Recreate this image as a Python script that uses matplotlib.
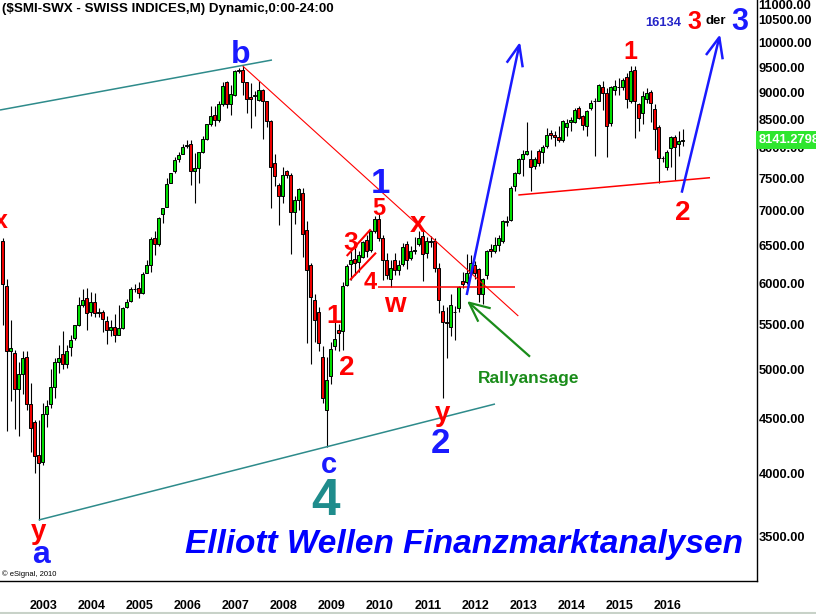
import numpy as np
import pandas as pd
import matplotlib
matplotlib.use("Agg")
import matplotlib.pyplot as plt
import matplotlib.transforms as mtransforms
from matplotlib import font_manager
from matplotlib.lines import Line2D

# --- SMI monthly candles, Jun 2002 .. Aug 2016 ---
months = pd.period_range("2002-06", "2016-08", freq="M")

opens = [
    6565, 5960, 5200, 5170, 4790, 4945, 5125,                                  # 2002
    4641, 4470, 4165, 4106, 4540, 4640, 4812, 5073, 5160, 5050, 5240, 5340,    # 2003
    5490, 5725, 5811, 5640, 5760, 5630, 5650, 5540, 5430, 5470, 5380, 5450,    # 2004
    5700, 5780, 5930, 5935, 5880, 6130, 6240, 6600, 6520, 6950, 7060, 7430,    # 2005
    7610, 7820, 7900, 8030, 8060, 7620, 7660, 7925, 8150, 8410, 8580, 8490,    # 2006
    8790, 9210, 8780, 8960, 9420, 9450, 9200, 8920, 8930, 8850, 9040, 8840,    # 2007
    8480, 7740, 7400, 7230, 7610, 7560, 6980, 7160, 7270, 6720, 6240, 5790,    # 2008
    5650, 5125, 4580, 4930, 5250, 5433, 5420, 5980, 6245, 6320, 6280, 6350,    # 2009
    6580, 6440, 6700, 6880, 6600, 6300, 6060, 6300, 6170, 6250, 6520, 6330,    # 2010
    6430, 6520, 6640, 6400, 6555, 6560, 6200, 5660, 5525, 5471, 5650, 5690,    # 2011
    6030, 6010, 6130, 6240, 6180, 5870, 6100, 6450, 6420, 6510, 6570, 6840,    # 2012
    6870, 7380, 7580, 7810, 7900, 7810, 7700, 7940, 7930, 8030, 8260, 8220,    # 2013
    8180, 8140, 8370, 8460, 8460, 8700, 8560, 8390, 8700, 8830, 8840, 9100,    # 2014
    8991, 8430, 9040, 9100, 9110, 9310, 8830, 9440, 8790, 8620, 8870, 9010,    # 2015
    8690, 8364, 7825, 7688, 7994, 8193, 8068, 8120,                            # 2016
]
highs = [
    6600, 6050, 5550, 5210, 5080, 5200, 5200,
    4850, 4490, 4487, 4650, 4681, 5005, 5120, 5260, 5420, 5260, 5370, 5495,
    5823, 5930, 5937, 5895, 5880, 5690, 5669, 5600, 5549, 5620, 5730, 5700,
    5800, 5950, 5990, 6020, 6140, 6300, 6620, 6705, 6900, 7045, 7500, 7590,
    7840, 7925, 8060, 8136, 8136, 7910, 7935, 8200, 8420, 8745, 8740, 8830,
    9200, 9215, 9140, 9440, 9480, 9530, 9210, 9180, 9035, 9230, 9060, 8840,
    8490, 7900, 7420, 7690, 7630, 7590, 7220, 7340, 7340, 6850, 6270, 5870,
    5700, 5250, 5125, 5290, 5549, 5500, 6010, 6250, 6420, 6470, 6430, 6560,
    6650, 6720, 6920, 6960, 6650, 6400, 6300, 6400, 6300, 6540, 6560, 6500,
    6620, 6700, 6700, 6620, 6640, 6600, 6260, 5730, 5700, 5870, 5720, 5970,
    6150, 6380, 6370, 6290, 6200, 6070, 6440, 6520, 6620, 6650, 6860, 6920,
    7380, 7600, 7830, 7966, 8455, 7960, 7850, 7980, 8050, 8340, 8310, 8290,
    8380, 8490, 8500, 8540, 8700, 8740, 8580, 8670, 8850, 8900, 9160, 9230,
    9080, 9130, 9250, 9290, 9290, 9390, 9520, 9530, 8800, 9030, 9090, 9050,
    8790, 8400, 7870, 7960, 8200, 8230, 8290, 8330,
]
lows = [
    5490, 4380, 4670, 4400, 4340, 4745, 4580,
    4195, 4006, 3630, 4074, 4418, 4600, 4700, 4960, 5000, 5010, 5135, 5320,
    5480, 5700, 5433, 5600, 5590, 5590, 5410, 5270, 5360, 5300, 5370, 5440,
    5690, 5770, 5890, 5820, 5870, 6130, 6150, 6370, 6500, 6820, 7050, 7420,
    7590, 7770, 7890, 8000, 7400, 7120, 7430, 7910, 8130, 8380, 8380, 8450,
    8750, 8700, 8580, 8930, 9390, 8960, 8620, 8350, 8560, 8840, 8160, 8370,
    7040, 7380, 6790, 7110, 7510, 6390, 6810, 7010, 6350, 5280, 5050, 5300,
    5200, 4650, 4240, 4840, 5210, 5200, 5206, 5960, 6040, 6100, 6150, 6330,
    6350, 6410, 6680, 6560, 6042, 6050, 5950, 6100, 6100, 6230, 6180, 6300,
    6380, 6490, 6030, 6330, 6480, 6150, 5630, 4705, 5120, 5360, 5320, 5650,
    5940, 5985, 6100, 6050, 5770, 5740, 6050, 6350, 6400, 6420, 6540, 6780,
    6850, 7300, 7570, 7530, 7880, 7300, 7650, 7700, 7750, 8000, 8150, 8030,
    8100, 8100, 8200, 8300, 8440, 8500, 8310, 8200, 8680, 7865, 8830, 8670,
    7847, 8380, 8950, 8950, 9050, 8700, 8800, 8170, 8300, 8410, 8800, 8450,
    7970, 7425, 7760, 7640, 7690, 7472, 7870, 8040,
]
closes = [
    5996, 5200, 5225, 4790, 4945, 5115, 4641,
    4412, 4160, 4094, 4540, 4620, 4812, 5073, 5115, 5050, 5190, 5320, 5490,
    5725, 5790, 5630, 5760, 5630, 5645, 5565, 5430, 5470, 5380, 5450, 5690,
    5760, 5930, 5925, 5875, 6115, 6240, 6590, 6520, 6888, 7037, 7405, 7580,
    7800, 7880, 8020, 8055, 7620, 7660, 7925, 8150, 8410, 8560, 8490, 8780,
    9130, 8780, 8980, 9420, 9440, 9200, 8880, 8880, 8950, 9040, 8840, 8480,
    7680, 7540, 7230, 7550, 7560, 6980, 7160, 7330, 6660, 6172, 5830, 5550,
    5280, 4700, 4880, 5220, 5330, 5395, 5970, 6225, 6300, 6270, 6370, 6545,
    6420, 6700, 6880, 6600, 6300, 6110, 6200, 6170, 6240, 6480, 6300, 6430,
    6440, 6610, 6380, 6560, 6565, 6200, 5790, 5520, 5515, 5729, 5640, 5950,
    5985, 6130, 6260, 6130, 5860, 6060, 6430, 6420, 6510, 6600, 6845, 6850,
    7350, 7580, 7810, 7900, 7950, 7690, 7810, 7750, 8010, 8220, 8220, 8180,
    8140, 8480, 8440, 8490, 8670, 8520, 8400, 8660, 8810, 8840, 9140, 8990,
    8382, 9110, 9130, 9115, 9240, 8876, 9430, 8830, 8520, 8934, 8985, 8810,
    8320, 7831, 7835, 7937, 8193, 8010, 8119, 8141,
]

price_ticks = [3500, 4000, 4500, 5000, 5500, 6000, 6500, 7000,
               7500, 8000, 8500, 9000, 9500, 10000, 10500]
top_tick = 11000
years = list(range(2003, 2017))
last_price = "8141.2798"

o = np.array(opens, float)
h = np.array(highs, float)
l = np.array(lows, float)
c = np.array(closes, float)
x = (months.year - 2003) * 12 + (months.month - 1)

names = {f.name for f in font_manager.fontManager.ttflist}
narrow = "Liberation Sans Narrow" in names
AX_FONT = "Liberation Sans Narrow" if narrow else "Liberation Sans"
ax_size = 11 if narrow else 9.3
yr_size = 10.5 if narrow else 9
LBL = "Liberation Sans"

fig = plt.figure(figsize=(8.16, 6.14), dpi=100)
ax = fig.add_axes([0, 33 / 614, 757 / 816, 581 / 614])
ax.set_yscale("log")
ax.set_ylim(3186, 10956)
ax.set_xlim(-7.675, 181.575)

for side in ("left", "top"):
    ax.spines[side].set_visible(False)
for side in ("right", "bottom"):
    ax.spines[side].set_color("black")
    ax.spines[side].set_linewidth(1.0)

# candles
up = c >= o
fill = np.where(up, "#00DD00", "#EE0000")
ax.vlines(x, l, h, color="black", lw=0.8, zorder=2)
lo_b = np.minimum(o, c)
hi_b = np.maximum(o, c)
ax.bar(x, hi_b - lo_b, bottom=lo_b, width=0.8, color=fill,
       edgecolor="black", linewidth=0.7, zorder=3)

# axes
ax.minorticks_off()
ax.yaxis.tick_right()
ax.set_yticks(price_ticks)
ax.set_yticklabels([f"{v:.2f}" for v in price_ticks])
ax.set_xticks([(yr - 2003) * 12 + 3.3 for yr in years])
ax.set_xticklabels([str(yr) for yr in years])
ax.tick_params(axis="y", length=0, pad=1)
ax.tick_params(axis="x", length=0, pad=14)
for t in ax.get_yticklabels():
    t.set_fontfamily(AX_FONT)
    t.set_fontweight("bold")
    t.set_fontsize(ax_size)
for t in ax.get_xticklabels():
    t.set_fontfamily(AX_FONT)
    t.set_fontweight("bold")
    t.set_fontsize(yr_size)

# reference-pixel coordinates for the drawn annotations
ref = mtransforms.Affine2D().scale(1 / 816, -1 / 614).translate(0, 1) + fig.transFigure

fig.text(758, 6, f"{top_tick:.2f}", transform=ref, ha="left", va="center",
         family=AX_FONT, weight="bold", size=ax_size)
fig.text(759, 140, last_price, transform=ref, ha="left", va="center",
         family=AX_FONT, weight="bold", size=ax_size, color="white",
         bbox=dict(boxstyle="square,pad=0.2", fc="#2EE62E", ec="none"))


def seg(xs, ys, color, lw):
    fig.add_artist(Line2D(xs, ys, transform=ref, color=color, lw=lw,
                          solid_capstyle="butt"))


TEAL = "#2E8B8B"
RED = "#FF0000"
BLUE = "#1A1AFF"
GREEN = "#1A8C1A"

seg([0, 272], [110, 60], TEAL, 1.1)
seg([38.7, 495], [520, 404], TEAL, 1.1)
seg([242.7, 518.3], [66, 316], RED, 0.8)
seg([378, 515], [287, 287], RED, 1.1)
seg([346.7, 370.7], [256, 229.3], RED, 1.5)
seg([350, 376], [280, 252.7], RED, 1.5)
seg([518.3, 710], [195, 177.7], RED, 1.1)

seg([466.7, 519.3], [295, 45], BLUE, 1.8)
seg([506.7, 519.3, 522.7], [62.7, 45, 67.3], BLUE, 1.8)
seg([681.7, 719.3], [192.7, 37.3], BLUE, 1.8)
seg([706, 719.3, 722.7], [55, 37.3, 59.3], BLUE, 1.8)

seg([530, 469], [356.7, 302.7], GREEN, 1.6)
seg([490.7, 469, 478.3], [308.3, 302.7, 321.7], GREEN, 1.6)

labels = [
    ("x", 1, 228, RED, 18),
    ("b", 241, 63, BLUE, 23),
    ("1", 380, 193, BLUE, 25),
    ("5", 378.7, 215, RED, 17),
    ("3", 350.8, 250, RED, 19),
    ("4", 370.5, 289, RED, 17),
    ("x", 418.3, 231.7, RED, 21),
    ("w", 395, 311.7, RED, 20),
    ("1", 333.3, 323.3, RED, 19),
    ("2", 346.7, 375, RED, 20),
    ("y", 442.5, 421, RED, 20),
    ("2", 440.8, 453.3, BLUE, 25),
    ("c", 328.7, 473.3, BLUE, 21),
    ("4", 326, 515, "#1F8C8C", 37),
    ("y", 38.3, 539, RED, 20),
    ("a", 40.8, 563, BLUE, 23),
    ("1", 630, 59.3, RED, 18),
    ("2", 683, 220, RED, 20),
    ("3", 694.5, 29.3, RED, 18),
    ("3", 740, 30, BLUE, 22),
]
for txt, px, py, col, size in labels:
    fig.text(px, py, txt, transform=ref, ha="center", va="baseline",
             color=col, size=size, family=LBL, weight="bold")

fig.text(663.7, 26, "16134", transform=ref, ha="center", va="baseline",
         color="#2525C8", size=ax_size, family=AX_FONT, weight="bold")
fig.text(716, 24, "der", transform=ref, ha="center", va="baseline",
         color="black", size=9.5, family=LBL, weight="bold")
fig.text(478, 383, "Rallyansage", transform=ref, ha="left", va="baseline",
         color=GREEN, size=12.5, family=LBL, weight="bold")
fig.text(185, 553, "Elliott Wellen Finanzmarktanalysen", transform=ref,
         ha="left", va="baseline", color="#0000FF", size=24, family=LBL,
         weight="bold", style="italic")
fig.text(2, 576, "\u00a9 eSignal, 2010", transform=ref, ha="left",
         va="baseline", color="black", size=5.5, family=LBL)
fig.text(2, 12, "($SMI-SWX - SWISS INDICES,M) Dynamic,0:00-24:00",
         transform=ref, ha="left", va="baseline", color="black", size=9.6,
         family=LBL, weight="bold")

fig.add_artist(Line2D([0, 816], [612.5, 612.5], transform=ref,
                      color="#C8D2C8", lw=1.5))

fig.savefig("out.png", dpi=100, facecolor="white")
